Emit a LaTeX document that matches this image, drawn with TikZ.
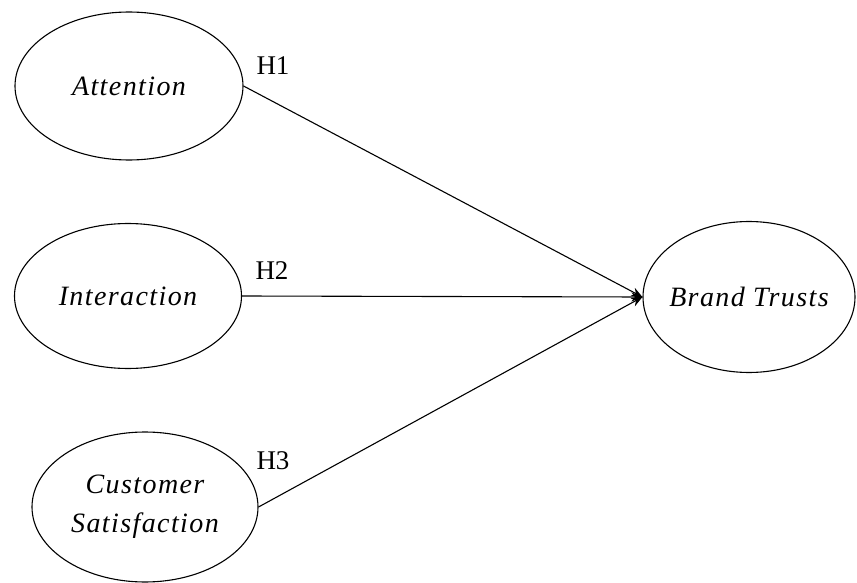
\documentclass[tikz,border=0pt]{standalone}
\usepackage{fontspec}
\setmainfont{Liberation Serif}
\newfontfamily\cfont[LetterSpace=5]{Liberation Serif}
\usetikzlibrary{shapes.geometric,arrows.meta}
\begin{document}
\begin{tikzpicture}[x=1pt,y=-1pt,
  construct/.style={draw, ellipse, line width=1.1pt, inner sep=0pt},
  ctext/.style={font=\cfont\fontsize{28}{39}\selectfont\itshape, align=center, inner sep=0pt},
  hyp/.style={font=\fontsize{27}{30}\selectfont, inner sep=0pt},
  link/.style={line width=1.1pt, -{Stealth[length=11pt,width=9pt]}}]
\useasboundingbox[fill=white] (0,0) rectangle (857,583);
\node[construct, minimum width=228pt, minimum height=148pt] (att) at (129,86) {};
\node[construct, minimum width=227pt, minimum height=145pt] (int) at (128,296) {};
\node[construct, minimum width=226pt, minimum height=150pt] (cs) at (145,507) {};
\node[construct, minimum width=212pt, minimum height=151pt] (bt) at (749,297) {};
\node[ctext] (attt) at (att.center) {Attention};
\node[ctext] (intt) at (int.center) {Interaction};
\node[ctext] (cst) at (cs.center) {Customer\\Satisfaction};
\node[ctext] (btt) at (bt.center) {Brand Trusts};
\node[hyp] (h1) at (273,66) {H1};
\node[hyp] (h2) at (272,271) {H2};
\node[hyp] (h3) at (273,461) {H3};
\draw[link] (att.east) -- (bt.west);
\draw[link] (int.east) -- (bt.west);
\draw[link] (cs.east) -- (bt.west);
\end{tikzpicture}
\end{document}
